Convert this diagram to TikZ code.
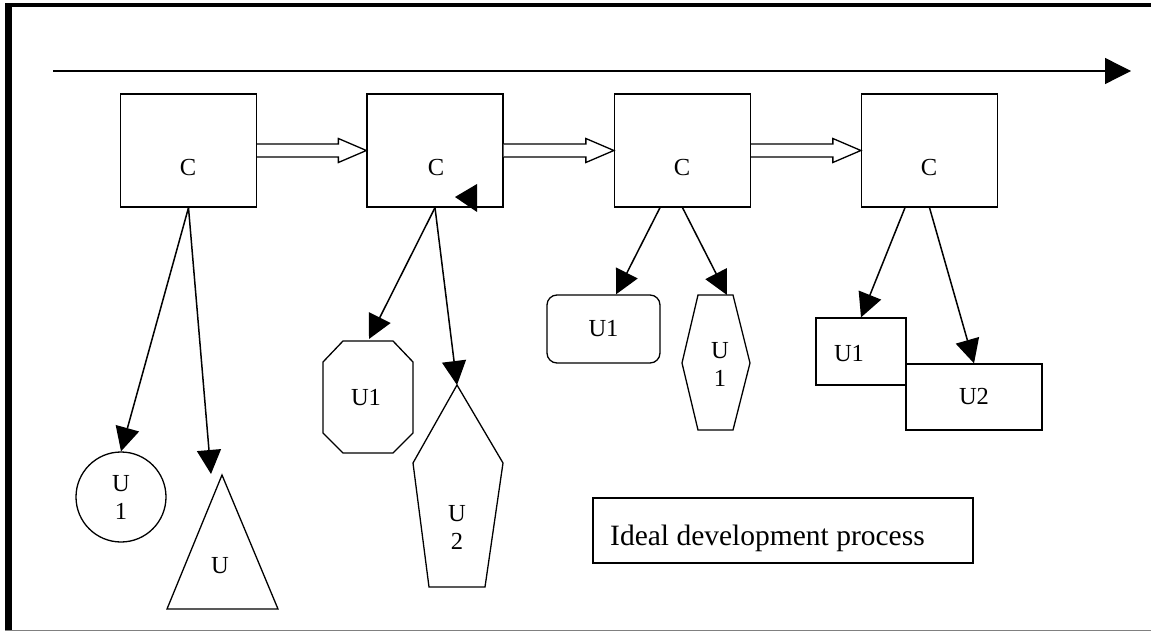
\documentclass[tikz,border=0pt]{standalone}
\usepackage{fontspec}
\setmainfont{Liberation Serif}
\usetikzlibrary{arrows.meta,calc}
\begin{document}
\begin{tikzpicture}[x=1pt,y=-1pt,
  box/.style={draw,line width=1.3pt,rectangle,inner sep=0pt},
  lbl/.style={font=\fontsize{24.5}{28}\selectfont,inner sep=0pt,align=center},
  conn/.style={line width=1.5pt,-{Triangle[length=24pt,width=24pt]}},
  shp/.style={draw,line width=1.3pt,line join=miter},
  hollow/.style={draw,line width=1.3pt,fill=white,line join=miter}]

\useasboundingbox (0,0) rectangle (1151,631);
\fill[white] (0,0) rectangle (1151,631);
% frame
\fill[black] (5,3) rectangle (12,631);
\fill[black] (5,3) rectangle (1151,7.5);
\draw[gray,line width=1pt] (5,630) -- (1151,630);

% timeline
\coordinate (tl0) at (53,71);
\coordinate (tl1) at (1131,71);
\draw[line width=1.3pt,-{Triangle[length=26pt,width=26pt]}] (tl0) -- (tl1);

% C boxes
\node[box,minimum width=136pt,minimum height=113pt] (c1) at (188.5,150.5) {};
\node[box,minimum width=136pt,minimum height=113pt] (c2) at (435,150.5) {};
\node[box,minimum width=136pt,minimum height=113pt] (c3) at (682.5,150.5) {};
\node[box,minimum width=136pt,minimum height=113pt] (c4) at (929.5,150.5) {};
\node[lbl,anchor=base] (c1l) at (188,175.5) {C};
\node[lbl,anchor=base] (c2l) at (436,175.5) {C};
\node[lbl,anchor=base] (c3l) at (682,175.5) {C};
\node[lbl,anchor=base] (c4l) at (929,175.5) {C};

% hollow arrows
\draw[hollow] ($(c1.east)+(0,-6.5)$) -- ($(c2.west)+(-28,-6.5)$) -- ($(c2.west)+(-28,-12)$) -- (c2.west) -- ($(c2.west)+(-28,12)$) -- ($(c2.west)+(-28,6.5)$) -- ($(c1.east)+(0,6.5)$);
\draw[hollow] ($(c2.east)+(0,-6.5)$) -- ($(c3.west)+(-28,-6.5)$) -- ($(c3.west)+(-28,-12)$) -- (c3.west) -- ($(c3.west)+(-28,12)$) -- ($(c3.west)+(-28,6.5)$) -- ($(c2.east)+(0,6.5)$);
\draw[hollow] ($(c3.east)+(0,-6.5)$) -- ($(c4.west)+(-28,-6.5)$) -- ($(c4.west)+(-28,-12)$) -- (c4.west) -- ($(c4.west)+(-28,12)$) -- ($(c4.west)+(-28,6.5)$) -- ($(c3.east)+(0,6.5)$);

% stray arrowhead in box 2
\fill[black] (455,197) -- (477,184) -- (477,212) -- cycle;

% group 1
\node[draw,line width=1.3pt,circle,minimum size=90pt,lbl] (u11) at (121,497) {U\\1};
\draw[shp] (222,475) -- (278,609) -- (167,609) -- cycle;
\node[lbl,anchor=base] (u12) at (220,573) {U};
\coordinate (t12) at (211,474);

% group 2
\draw[shp] (343,341) -- (393,341) -- (413,362) -- (413,433) -- (393,453) -- (343,453) -- (323,433) -- (323,362) -- cycle;
\node[lbl,anchor=base] (u21) at (366,405) {U1};
\coordinate (t21) at (369,339);
\draw[shp] (457,385) -- (503,463) -- (485,587) -- (429,587) -- (413,463) -- cycle;
\node[lbl] (u22) at (457,527) {U\\2};
\coordinate (t22) at (457,385);

% group 3
\node[box,lbl,rounded corners=10pt,minimum width=113pt,minimum height=68pt] (r3) at (603.5,329) {U1};
\draw[shp] (698,295) -- (733,295) -- (750,363) -- (733,430) -- (698,430) -- (682,363) -- cycle;
\node[lbl] (u32) at (720,364.5) {U\\1};
\coordinate (t32) at (727,295);

% group 4
\node[box,minimum width=90pt,minimum height=67pt] (u41) at (861,351.5) {};
\node[lbl,anchor=base] (u41l) at (849,361) {U1};
\node[box,lbl,minimum width=136pt,minimum height=66pt] (u42) at (974,397) {U2};

% connectors
\draw[conn] (c1.south) -- (u11.north);
\draw[conn] (c1.south) -- (t12);
\draw[conn] (c2.south) -- (t21);
\draw[conn] (c2.south) -- (t22);
\draw[conn] ([xshift=-22.5pt]c3.south) -- ([xshift=12.5pt]r3.north);
\draw[conn] (c3.south) -- (t32);
\draw[conn] ([xshift=-24.5pt]c4.south) -- (u41.north);
\draw[conn] (c4.south) -- (u42.north);

% legend
\node[box,minimum width=380pt,minimum height=65pt] (leg) at (783,530.5) {};
\node[font=\fontsize{29.5}{34}\selectfont,anchor=base west,inner sep=0pt] (legt) at (610,545) {Ideal development process};
\end{tikzpicture}
\end{document}
